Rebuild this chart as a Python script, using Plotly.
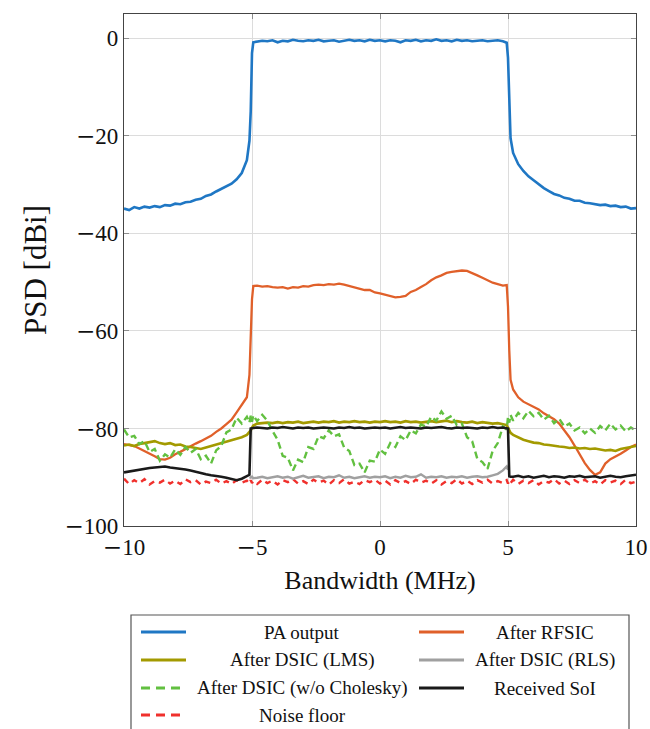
import plotly.graph_objects as go

# ---------------- data ----------------
freq_mhz = [
    -10.0, -9.8, -9.6, -9.4, -9.2, -9.0, -8.8, -8.6, -8.4, -8.2, -8.0, -7.8, -7.6, -7.4, -7.2, -7.0,
    -6.8, -6.6, -6.4, -6.2, -6.0, -5.8, -5.6, -5.4, -5.2,
    -5.1, -5.05, -5.0, -4.95,
    -4.8, -4.6, -4.4, -4.2, -4.0, -3.8, -3.6, -3.4, -3.2, -3.0, -2.8, -2.6, -2.4, -2.2, -2.0, -1.8,
    -1.6, -1.4, -1.2, -1.0, -0.8, -0.6, -0.4, -0.2, 0.0, 0.2, 0.4, 0.6, 0.8, 1.0, 1.2, 1.4, 1.6, 1.8,
    2.0, 2.2, 2.4, 2.6, 2.8, 3.0, 3.2, 3.4, 3.6, 3.8, 4.0, 4.2, 4.4, 4.6, 4.8,
    4.95, 5.0, 5.05, 5.1,
    5.2, 5.4, 5.6, 5.8, 6.0, 6.2, 6.4, 6.6, 6.8, 7.0, 7.2, 7.4, 7.6, 7.8, 8.0, 8.2, 8.4, 8.6, 8.8,
    9.0, 9.2, 9.4, 9.6, 9.8, 10.0,
]

pa_output = [
    -34.9, -35.2, -34.6, -34.9, -34.5, -34.7, -34.4, -34.6, -34.2, -34.3, -33.9, -34.0, -33.6, -33.5, -33.1, -32.9,
    -32.3, -32.0, -31.4, -30.9, -30.4, -29.8, -28.9, -27.6, -25.0,
    -21.0, -15.0, -3.0, -0.8,
    -0.7, -0.5, -0.6, -0.4, -0.8, -0.5, -0.6, -0.3, -0.5, -0.6, -0.4, -0.5, -0.3, -0.6, -0.5, -0.4,
    -0.7, -0.5, -0.3, -0.5, -0.4, -0.6, -0.3, -0.5, -0.4, -0.6, -0.4, -0.5, -0.8, -0.4, -0.5, -0.3, -0.6, -0.4,
    -0.5, -0.2, -0.5, -0.4, -0.6, -0.3, -0.5, -0.4, -0.6, -0.5, -0.4, -0.6, -0.5, -0.4, -0.6,
    -0.9, -4.0, -15.5, -20.5,
    -23.5, -25.8, -27.2, -28.3, -29.1, -29.9, -30.7, -31.3, -31.9, -32.2, -32.7, -32.9, -33.3, -33.3, -33.7, -33.8, -34.0, -34.2, -34.1,
    -34.4, -34.3, -34.6, -34.5, -34.9, -34.8,
]

after_rfsic = [
    -83.2, -83.4, -83.6, -84.1, -84.6, -85.2, -85.7, -86.3, -86.4, -86.0, -85.3, -84.8, -84.2, -83.7, -83.1, -82.6,
    -82.0, -81.5, -80.7, -80.0, -79.1, -78.2, -76.7, -75.2, -73.6,
    -69.0, -62.0, -53.5, -50.8,
    -50.7, -50.9, -50.8, -51.0, -51.1, -51.0, -51.3, -51.0, -51.1, -50.8, -50.9, -50.6, -50.5, -50.6, -50.4, -50.5,
    -50.3, -50.5, -50.8, -51.0, -51.4, -51.6, -51.6, -52.1, -52.3, -52.6, -52.9, -53.1, -53.0, -52.8, -52.0, -51.6, -51.0, -50.4,
    -49.6, -49.0, -48.6, -48.1, -47.9, -47.7, -47.6, -47.7, -48.1, -48.6, -49.1, -49.6, -50.1, -50.4, -50.7,
    -50.6, -55.0, -64.0, -70.0,
    -72.0, -73.6, -74.5, -75.0, -75.6, -76.1, -76.9, -77.5, -78.1, -79.0, -80.3, -81.8, -83.5, -85.3, -87.1, -88.5, -89.5, -89.0, -87.2,
    -86.3, -85.8, -85.2, -84.5, -83.8, -83.3,
]

after_dsic_lms = [
    -83.5, -83.3, -83.6, -83.2, -83.0, -82.8, -82.6, -83.0, -83.2, -83.0, -83.4, -83.3, -83.7, -83.8, -84.0, -84.2,
    -83.9, -83.6, -83.4, -83.0, -82.8, -82.4, -82.1, -81.8, -81.3,
    -80.8, -80.4, -79.8, -79.4,
    -79.0, -78.9, -78.8, -78.9, -78.7, -78.9, -78.7, -78.8, -78.6, -78.9, -78.7, -78.6, -78.8, -78.6, -78.7, -78.5,
    -78.8, -78.6, -78.7, -78.5, -78.7, -78.6, -78.8, -78.6, -78.7, -78.5, -78.7, -78.6, -78.8, -78.5, -78.7, -78.6, -78.8, -78.7,
    -78.5, -78.7, -78.6, -78.4, -78.7, -78.5, -78.7, -78.8, -78.6, -78.9, -78.7, -78.8, -79.0, -78.9, -79.1,
    -79.3, -79.8, -80.4, -80.9,
    -81.3, -81.8, -82.3, -82.6, -82.9, -83.0, -83.3, -83.4, -83.6, -83.7, -83.8, -84.0, -83.9, -84.1, -84.0, -84.2, -84.1, -84.3, -84.5,
    -84.4, -84.6, -84.2, -84.0, -83.8, -83.6,
]

after_dsic_rls = [
    None, None, None, None, None, None, None, None, None, None, None, None, None, None, None, None,
    None, None, None, None, None, None, None, None, None,
    -90.0, -90.1, -89.9, -90.2,
    -90.1, -89.9, -90.2, -90.0, -89.8, -90.1, -89.9, -90.3, -90.0, -89.7, -90.1, -90.0, -89.8, -90.2, -89.9, -90.0,
    -89.6, -90.1, -89.9, -90.2, -90.0, -89.8, -90.1, -89.9, -90.0, -89.8, -90.2, -89.9, -90.1, -89.7, -90.0, -89.9, -89.4, -90.1,
    -89.9, -90.0, -89.8, -90.1, -89.9, -90.0, -89.8, -90.1, -89.9, -89.8, -90.0, -89.9, -89.6, -89.3, -88.6,
    -87.8, -88.5, None, None,
    None, None, None, None, None, None, None, None, None, None, None, None, None, None, None, None, None, None, None,
    None, None, None, None, None, None,
]

after_dsic_nochol = [
    -80.2, -81.8, -81.5, -83.2, -82.6, -84.8, -84.2, -86.6, -85.3, -86.0, -84.3, -85.4, -83.8, -85.0, -84.2, -86.3,
    -85.6, -87.2, -84.5, -83.6, -80.8, -80.2, -77.8, -79.0, -77.6,
    -78.8, -77.4, -78.6, -77.3,
    -78.5, -77.2, -78.4, -80.5, -82.3, -85.6, -86.0, -88.6, -86.4, -86.9, -83.8, -84.2, -81.6, -82.0, -80.4, -81.6,
    -81.2, -83.9, -84.6, -87.5, -87.2, -89.0, -86.6, -86.8, -84.3, -85.2, -83.0, -83.8, -81.6, -82.4, -80.4, -81.0, -79.2, -79.6,
    -77.6, -78.4, -76.5, -78.0, -77.4, -79.3, -79.0, -81.8, -82.6, -86.2, -86.9, -88.3, -84.6, -83.0, -79.6,
    -80.2, -77.6, -78.8, -77.2,
    -78.4, -76.8, -77.9, -76.4, -77.5, -76.8, -78.2, -77.4, -78.9, -78.0, -79.6, -79.0, -80.4, -79.8, -81.0, -80.0, -80.9, -79.5, -80.4,
    -79.0, -80.2, -79.4, -80.6, -79.8, -80.5,
]

received_soi = [
    -89.0, -88.8, -88.7, -88.4, -88.3, -88.1, -88.0, -87.9, -87.8, -88.0, -88.1, -88.3, -88.4, -88.6, -88.9, -89.1,
    -89.4, -89.6, -89.7, -89.9, -90.1, -90.3, -90.6, -90.3, -89.8,
    -89.5, -80.0, -79.9, -79.9,
    -79.8, -79.9, -80.0, -79.8, -79.9, -79.7, -79.9, -80.0, -79.8, -79.9, -79.8, -80.0, -79.9, -79.8, -79.9, -80.0,
    -79.8, -79.9, -79.7, -79.9, -79.8, -80.0, -79.9, -79.8, -79.9, -79.8, -80.0, -79.9, -79.7, -79.9, -79.8, -79.9, -80.0, -79.8,
    -79.9, -79.8, -79.7, -79.9, -80.0, -79.8, -79.9, -79.8, -79.9, -80.0, -79.8, -79.9, -79.7, -79.9, -79.8,
    -79.9, -80.0, -89.8, -89.9,
    -89.9, -89.7, -90.0, -89.8, -90.1, -89.9, -89.7, -90.0, -89.8, -89.9, -90.1, -89.8, -89.9, -89.7, -90.0, -89.9, -89.8, -90.1, -89.9,
    -89.7, -89.9, -90.0, -89.8, -89.7, -89.5,
]

noise_floor = [
    -90.3, -91.4, -90.6, -91.2, -90.4, -91.5, -90.8, -91.1, -90.5, -91.3, -90.7, -91.4, -90.4, -91.0, -90.6, -91.5,
    -90.9, -91.2, -90.5, -91.3, -90.8, -91.4, -90.6, -91.1, -90.7,
    -91.3, -90.6, -91.2, -90.8,
    -91.4, -90.5, -91.2, -90.7, -91.5, -90.6, -91.0, -90.4, -91.3, -90.8, -91.4, -90.5, -91.1, -90.7, -91.5, -90.6,
    -91.2, -90.4, -91.3, -90.9, -91.4, -90.6, -91.0, -90.5, -91.3, -90.7, -91.5, -90.6, -91.2, -90.8, -91.4, -90.5, -91.1, -90.7,
    -91.3, -90.6, -91.5, -90.8, -91.2, -90.4, -91.3, -90.7, -91.4, -90.6, -91.1, -90.5, -91.3, -90.8, -91.2,
    -90.6, -91.3, -90.7, -91.2,
    -90.5, -91.4, -90.7, -91.2, -90.6, -91.5, -90.8, -91.1, -90.4, -91.3, -90.7, -91.4, -90.6, -91.2, -90.5, -91.3, -90.8, -91.5, -90.6,
    -91.1, -90.7, -91.4, -90.5, -91.2, -90.9,
]

x_ticks = [-10, -5, 0, 5, 10]
y_ticks = [-100, -80, -60, -40, -20, 0]

for s in (pa_output, after_rfsic, after_dsic_lms, after_dsic_rls, after_dsic_nochol, received_soi, noise_floor):
    assert len(s) == len(freq_mhz), (len(s), len(freq_mhz))

# tick labels with a wide (TeX-like) minus sign
MINUS = "<span style='font-family:DejaVu Serif'>\u2212</span>"


def tick_label(v):
    return (MINUS + str(abs(v))) if v < 0 else str(v)


x_tick_text = [tick_label(v) for v in x_ticks]
y_tick_text = [tick_label(v) for v in y_ticks]

# ---------------- styles ----------------
C_BLUE = "#1f77c4"
C_ORANGE = "#e0602a"
C_OLIVE = "#a39a00"
C_GRAY = "#a0a0a0"
C_GREEN = "#62c040"
C_BLACK = "#1a1a1a"
C_RED = "#f0302c"

styles = {
    "PA output": dict(color=C_BLUE, width=2.6, dash="solid"),
    "After RFSIC": dict(color=C_ORANGE, width=2.3, dash="solid"),
    "After DSIC (LMS)": dict(color=C_OLIVE, width=2.6, dash="solid"),
    "After DSIC (RLS)": dict(color=C_GRAY, width=2.4, dash="solid"),
    "After DSIC (w/o Cholesky)": dict(color=C_GREEN, width=2.4, dash="7px,4px"),
    "Received SoI": dict(color=C_BLACK, width=2.6, dash="solid"),
    "Noise floor": dict(color=C_RED, width=2.4, dash="6px,5px"),
}
values = {
    "PA output": pa_output,
    "After RFSIC": after_rfsic,
    "After DSIC (LMS)": after_dsic_lms,
    "After DSIC (RLS)": after_dsic_rls,
    "After DSIC (w/o Cholesky)": after_dsic_nochol,
    "Received SoI": received_soi,
    "Noise floor": noise_floor,
}
draw_order = ["PA output", "After RFSIC", "After DSIC (LMS)", "After DSIC (w/o Cholesky)",
              "Noise floor", "After DSIC (RLS)", "Received SoI"]

FONT = "Liberation Serif"
fig = go.Figure()
for name in draw_order:
    fig.add_trace(go.Scatter(x=freq_mhz, y=values[name], mode="lines", name=name,
                             line=styles[name], showlegend=False, connectgaps=False))

axis_common = dict(
    showgrid=True, gridcolor="#dcdcdc", gridwidth=1,
    showline=True, linecolor="#444444", linewidth=1.3, mirror="allticks",
    ticks="inside", ticklen=5, tickcolor="#8c8c8c", tickwidth=1.2,
    zeroline=False, automargin=False,
    tickfont=dict(family=FONT, size=23, color="#111111"),
)
fig.update_xaxes(range=[-10, 10], tickvals=x_ticks, ticktext=x_tick_text, **axis_common,
                 title=dict(text="Bandwidth (MHz)", font=dict(family=FONT, size=26, color="#111111"), standoff=12))
fig.update_yaxes(range=[-100, 5], tickvals=y_ticks, ticktext=y_tick_text, **axis_common,
                 title=dict(text="PSD [dBi]", font=dict(family=FONT, size=31, color="#111111"), standoff=8))

# ---------------- legend box (manual, two columns, centred labels) ----------------
W, H = 650, 729
L, R, T, B = 124, 14, 14, 203
pw, ph = W - L - R, H - T - B


def px_x(px):
    return (px - L) / pw


def px_y(py):
    return (H - B - py) / ph


shapes = [dict(type="rect", xref="paper", yref="paper",
               x0=px_x(131), x1=px_x(629), y0=px_y(745), y1=px_y(615),
               line=dict(color="#555555", width=1.2), fillcolor="white", layer="above")]
annotations = []
rows_y = [632, 660, 688, 715]
legend_layout = [
    ("PA output", 0, 0), ("After RFSIC", 0, 1),
    ("After DSIC (LMS)", 1, 0), ("After DSIC (RLS)", 1, 1),
    ("After DSIC (w/o Cholesky)", 2, 0), ("Received SoI", 2, 1),
    ("Noise floor", 3, 0),
]
col_line = [(141, 186), (419, 464)]
col_text = [302, 545]
for name, r, c in legend_layout:
    st = styles[name]
    dash = "solid" if st["dash"] == "solid" else "9px,6px"
    shapes.append(dict(type="line", xref="paper", yref="paper",
                       x0=px_x(col_line[c][0]), x1=px_x(col_line[c][1]),
                       y0=px_y(rows_y[r]), y1=px_y(rows_y[r]),
                       line=dict(color=st["color"], width=2.8, dash=dash), layer="above"))
    annotations.append(dict(xref="paper", yref="paper", x=px_x(col_text[c]), y=px_y(rows_y[r]),
                            text=name, showarrow=False, xanchor="center", yanchor="middle",
                            font=dict(family=FONT, size=19, color="#111111")))

fig.update_layout(
    width=W, height=H,
    margin=dict(l=L, r=R, t=T, b=B, pad=0),
    paper_bgcolor="white", plot_bgcolor="white",
    shapes=shapes, annotations=annotations,
    showlegend=False,
)
fig.write_html("out.html", config={"displayModeBar": False},
               post_script="document.body.style.margin='0';document.body.style.overflow='hidden';")
